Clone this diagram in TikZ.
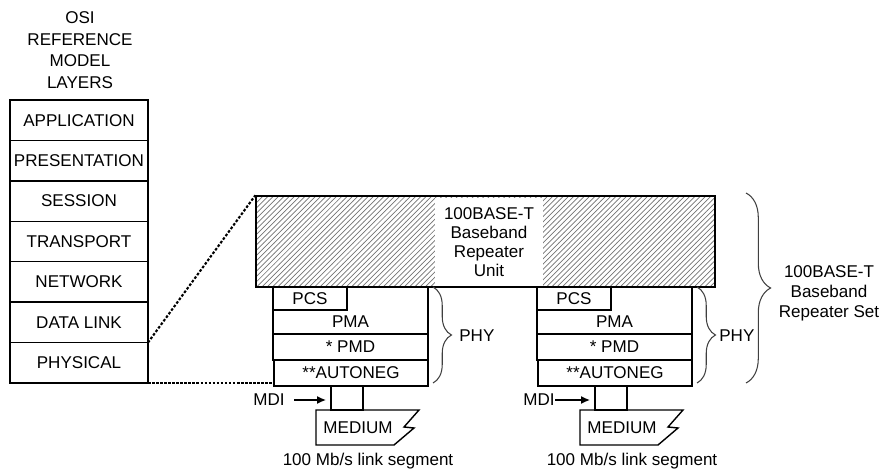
\documentclass[tikz,border=0pt]{standalone}
\usepackage{fontspec}
\setmainfont{Liberation Sans}
\usetikzlibrary{positioning, arrows.meta, patterns, decorations.pathreplacing, calc}

\tikzset{
  osilayer/.style={draw, line width=0.8pt, minimum width=2.76cm, minimum height=0.8086cm,
    inner sep=0pt, outer sep=0pt},
  phybox/.style={draw, line width=0.8pt, inner sep=0pt, outer sep=0pt},
  hatchbox/.style={draw, line width=0.8pt, inner sep=0pt, pattern=north east lines, pattern color=black!55},
  curly/.style={decorate, decoration={brace, amplitude=#1}, line width=0.6pt, black!75},
  mdiarrow/.style={-{Latex[length=5pt,width=4.5pt]}, line width=0.8pt},
  zoomline/.style={line width=1.2pt, dash pattern=on 1.5pt off 1pt},
  lbl/.style={inner sep=0pt, align=center},
}

\begin{document}
\begin{tikzpicture}[x=0.02cm, y=-0.02cm, font=\fontsize{9.7}{11.2}\selectfont]
  \useasboundingbox (0,0) rectangle (884,475);

  % OSI reference model
  \node[lbl, font=\fontsize{9.7}{12.3}\selectfont] (osititle) at (80,50) {OSI\\REFERENCE\\MODEL\\LAYERS};
  \foreach \name [count=\i from 0] in {APPLICATION, PRESENTATION, SESSION, TRANSPORT, NETWORK, DATA LINK, PHYSICAL}
    \node[osilayer] (layer\i) at (79,{120.2+40.43*\i}) {\name};

  % repeater unit
  \node[hatchbox, minimum width=9.18cm, minimum height=1.82cm] (unit) at (485.5,241.5) {};
  \node[lbl, fill=white, minimum width=2.16cm, minimum height=1.76cm,
    font=\fontsize{9.7}{10.8}\selectfont] (unittext) at (489,242) {100BASE-T\\Baseband\\Repeater\\Unit};

  % the two PHY stacks
  \foreach \X/\s/\mx/\ag/\px in {273/l/46/9/186, 537/r/40/0/182} {
    \node[phybox, minimum width=3.1cm, minimum height=0.94cm] (pma\s) at (\X+77.5,310.5) {};
    \node[phybox, fill=white, minimum width=1.48cm, minimum height=0.46cm] (pcs\s) at (\X+37,298.5) {PCS};
    \node[lbl] (pmatxt\s) at (\X+77.5,322) {PMA};
    \node[phybox, minimum width=3.1cm, minimum height=0.52cm] (pmd\s) at (\X+77.5,347) {* PMD};
    \node[phybox, minimum width=3.08cm, minimum height=0.52cm] (autoneg\s) at (\X+78,373) {**AUTONEG};
    \draw[line width=1.6pt] (pmd\s.south west) -- (pmd\s.south east);
    \node[phybox, minimum width=0.64cm, minimum height=0.48cm] (conn\s) at (\X+74,398) {};
    \draw[line width=0.8pt] (\X+43,410) -- (\X+146,410) -- (\X+131,427) -- (\X+141,428)
      -- (\X+121,445) -- (\X+43,445) -- cycle;
    \node[lbl] (medium\s) at (\X+85,428) {MEDIUM};
    \node[lbl, anchor=east] (mdi\s) at ($(conn\s.west)+(-\mx,2)$) {MDI};
    \draw[mdiarrow] ($(mdi\s.east)+(\ag,0)$) -- ($(conn\s.west)+(-5,2)$);
    \node[lbl] (link\s) at (\X+95,461) {100 Mb/s link segment};
    \draw[curly=10.5pt] (\X+160,287) -- (\X+160,383);
    \node[lbl, anchor=west] (phy\s) at (\X+\px,336) {PHY};
  }

  % zoom lines from the physical layer
  \draw[zoomline] (layer6.north east) -- (unit.north west);
  \draw[zoomline, dash pattern=on 1.5pt off 0.8pt] (layer6.south east) -- (layer6.south east -| autonegl.west);

  % repeater set
  \draw[curly=14pt] (746,193) -- (746,383);
  \node[lbl, font=\fontsize{9.7}{11.4}\selectfont] (repset) at (829,293) {100BASE-T\\Baseband\\Repeater Set};
\end{tikzpicture}
\end{document}
